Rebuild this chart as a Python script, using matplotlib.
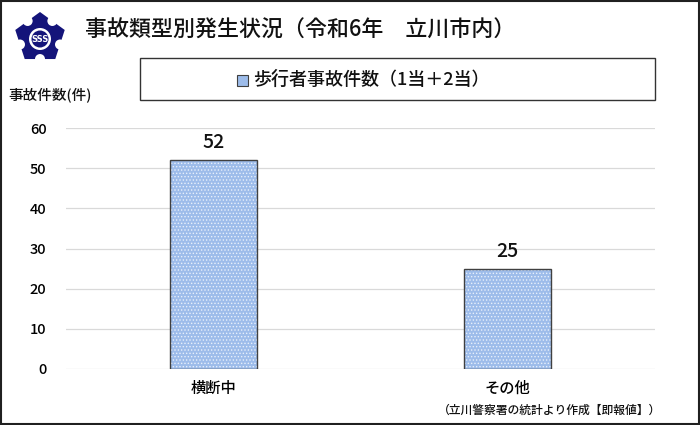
import matplotlib
matplotlib.use("Agg")
import matplotlib.pyplot as plt
from matplotlib.patches import Rectangle, Polygon, Circle, Ellipse
import numpy as np

plt.rcParams['font.family'] = ['Noto Sans CJK JP', 'DejaVu Sans']
plt.rcParams['font.weight'] = 'medium'
plt.rcParams['hatch.linewidth'] = 0.6

categories = ["横断中", "その他"]
values = [52, 25]
yticks = [0, 10, 20, 30, 40, 50, 60]
title = "事故類型別発生状況（令和6年　立川市内）"
series_name = "歩行者事故件数（1当＋2当）"
ylabel = "事故件数(件)"
source = "（立川警察署の統計より作成【即報値】）"

fig = plt.figure(figsize=(7, 4.25), dpi=100)
ax = fig.add_axes([66/700, 56/425, 589/700, 241/425])

x = np.arange(len(categories))
w = 0.295
ax.bar(x, values, width=w, color='#9dbcea', edgecolor='none', zorder=2)
ax.bar(x, values, width=w, color='none', edgecolor='#e8f0fb', hatch='.....', linewidth=0, zorder=3)
ax.bar(x, values, width=w, color='none', edgecolor='#404040', linewidth=1.0, zorder=4)
for xi, v in zip(x, values):
    ax.text(xi, v + 2.0, str(v), ha='center', va='bottom', fontsize=14, color='#111111')

ax.set_xlim(-0.5, 1.5)
ax.set_ylim(0, 60)
ax.set_yticks(yticks)
ax.set_yticklabels([str(t) for t in yticks], fontsize=10.5)
ax.set_xticks(x)
ax.set_xticklabels(categories, fontsize=11)
ax.tick_params(axis='y', length=0, pad=14)
ax.tick_params(axis='x', length=0, pad=8)
ax.grid(axis='y', color='#d9d9d9', linewidth=0.9, zorder=0)
for s in ax.spines.values():
    s.set_visible(False)
ax.set_axisbelow(True)

# figure border
fig.patches.append(Rectangle((0.0015, 0.0025), 0.997, 0.995, transform=fig.transFigure,
                             fill=False, edgecolor='#202020', linewidth=1.5))

# title
fig.text(85/700, 1 - 30/425, title, fontsize=15.8, va='center', ha='left', color='#111111')

# legend box
fig.patches.append(Rectangle((140/700, 1 - 100/425), (655-140)/700, 42/425,
                             transform=fig.transFigure, fill=False, edgecolor='#333333', linewidth=1.0))
fig.patches.append(Rectangle((237/700, 1 - 86/425), 11/700, 11/425, transform=fig.transFigure,
                             facecolor='#9dbcea', edgecolor='#404040', linewidth=0.8))
fig.text(253/700, 1 - 80/425, series_name, fontsize=13, va='center', ha='left', color='#111111')

# y label
fig.text(8/700, 1 - 95/425, ylabel, fontsize=10.5, va='center', ha='left', color='#111111')

# source
fig.text(550/700, 1 - 410/425, source, fontsize=8.5, va='center', ha='center', color='#111111')

# logo
cx, cy, r = 40, 38, 26
ang = np.deg2rad(90 + np.arange(5) * 72)
px = cx + r * np.cos(ang)
py = cy - r * np.sin(ang)
pts = [(a/700, 1 - b/425) for a, b in zip(px, py)]
fig.patches.append(Polygon(pts, closed=True, transform=fig.transFigure, facecolor='#14147a', edgecolor='none'))
for i in range(5):
    mx = (px[i] + px[(i+1) % 5]) / 2
    my = (py[i] + py[(i+1) % 5]) / 2
    fig.patches.append(Ellipse((mx/700, 1 - my/425), 10/700, 10/425, transform=fig.transFigure,
                               facecolor='white', edgecolor='none'))
fig.patches.append(Ellipse((cx/700, 1 - (cy+1)/425), 22/700, 22/425, transform=fig.transFigure,
                           facecolor='white', edgecolor='none'))
fig.patches.append(Ellipse((cx/700, 1 - (cy+1)/425), 17/700, 17/425, transform=fig.transFigure,
                           facecolor='#14147a', edgecolor='none'))
fig.text(cx/700, 1 - (cy+1)/425, "SSS", fontsize=6, color='white', ha='center', va='center',
         fontweight='bold', family='DejaVu Sans')

fig.savefig("out.png", dpi=100)
